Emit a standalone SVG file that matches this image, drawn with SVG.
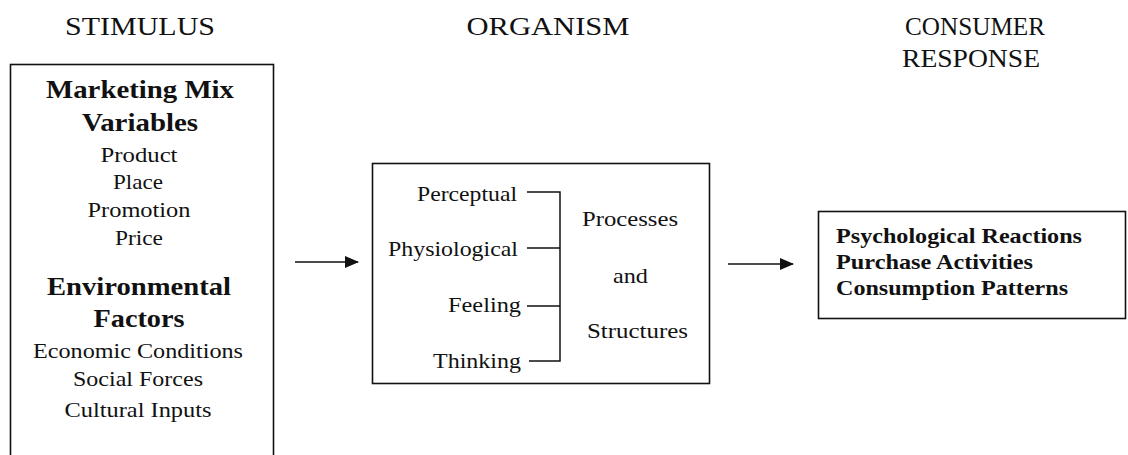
<svg xmlns="http://www.w3.org/2000/svg" width="1128" height="455" viewBox="0 0 1128 455" font-family="'Liberation Serif', 'DejaVu Serif', serif">
<style>
text{font-family:'Liberation Serif','DejaVu Serif',serif;fill:#111}
.hd{font-size:26px}
.b{font-size:26px;font-weight:bold;text-anchor:middle}
.r{font-size:21px;text-anchor:middle}
.rr{font-size:21px;text-anchor:end}
.rl{font-size:21px}
.bx{fill:#fff;stroke:#111;stroke-width:1.6}
.ln{stroke:#111;stroke-width:1.5;fill:none}
.resp{font-size:21px;font-weight:bold}
</style>
<defs>
<marker id="ah" markerWidth="14" markerHeight="14" refX="13" refY="7" orient="auto" markerUnits="userSpaceOnUse">
<path d="M0,1 L14,7 L0,13 z" fill="#111"/>
</marker>
</defs>
<rect width="1128" height="455" fill="#fff"/>
<g id="headers">
<text class="hd" x="140" y="35" text-anchor="middle" textLength="150" lengthAdjust="spacingAndGlyphs">STIMULUS</text>
<text class="hd" x="548" y="35" text-anchor="middle" textLength="163" lengthAdjust="spacingAndGlyphs">ORGANISM</text>
<text class="hd" x="975" y="35" text-anchor="middle" textLength="140" lengthAdjust="spacingAndGlyphs">CONSUMER</text>
<text class="hd" x="971" y="67" text-anchor="middle" textLength="138" lengthAdjust="spacingAndGlyphs">RESPONSE</text>
</g>
<g id="stimulus">
<rect class="bx" x="10.5" y="64.5" width="263" height="420"/>
<text class="b" x="140" y="98" textLength="188" lengthAdjust="spacingAndGlyphs">Marketing Mix</text>
<text class="b" x="140" y="131" textLength="116" lengthAdjust="spacingAndGlyphs">Variables</text>
<text class="r" x="139" y="162" textLength="77" lengthAdjust="spacingAndGlyphs">Product</text>
<text class="r" x="138" y="189" textLength="50" lengthAdjust="spacingAndGlyphs">Place</text>
<text class="r" x="139" y="217" textLength="103" lengthAdjust="spacingAndGlyphs">Promotion</text>
<text class="r" x="139" y="245" textLength="48" lengthAdjust="spacingAndGlyphs">Price</text>
<text class="b" x="139" y="295" textLength="184" lengthAdjust="spacingAndGlyphs">Environmental</text>
<text class="b" x="139" y="327" textLength="91" lengthAdjust="spacingAndGlyphs">Factors</text>
<text class="r" x="138" y="358" textLength="210" lengthAdjust="spacingAndGlyphs">Economic Conditions</text>
<text class="r" x="138" y="386" textLength="130" lengthAdjust="spacingAndGlyphs">Social Forces</text>
<text class="r" x="138" y="417" textLength="147" lengthAdjust="spacingAndGlyphs">Cultural Inputs</text>
</g>
<g id="organism">
<rect class="bx" x="372.5" y="163.5" width="337" height="220"/>
<text class="rr" x="517" y="201" textLength="100" lengthAdjust="spacingAndGlyphs">Perceptual</text>
<text class="rr" x="518" y="256" textLength="130" lengthAdjust="spacingAndGlyphs">Physiological</text>
<text class="rr" x="521" y="312" textLength="73" lengthAdjust="spacingAndGlyphs">Feeling</text>
<text class="rr" x="521" y="368" textLength="88" lengthAdjust="spacingAndGlyphs">Thinking</text>
<path class="ln" d="M527,192 H560 V361 H529 M527,248 H560 M527,306 H560"/>
<text class="rl" x="582" y="226" textLength="96" lengthAdjust="spacingAndGlyphs">Processes</text>
<text class="rl" x="613" y="283" textLength="35" lengthAdjust="spacingAndGlyphs">and</text>
<text class="rl" x="587" y="338" textLength="101" lengthAdjust="spacingAndGlyphs">Structures</text>
</g>
<g id="response">
<rect class="bx" x="818.5" y="211.5" width="307" height="107"/>
<text class="resp" x="836" y="243" textLength="246" lengthAdjust="spacingAndGlyphs">Psychological Reactions</text>
<text class="resp" x="836" y="269" textLength="197" lengthAdjust="spacingAndGlyphs">Purchase Activities</text>
<text class="resp" x="836" y="295" textLength="232" lengthAdjust="spacingAndGlyphs">Consumption Patterns</text>
</g>
<g id="connectors">
<line class="ln" x1="295" y1="262" x2="358" y2="262" marker-end="url(#ah)"/>
<line class="ln" x1="728" y1="264" x2="793" y2="264" marker-end="url(#ah)"/>
</g>
</svg>
